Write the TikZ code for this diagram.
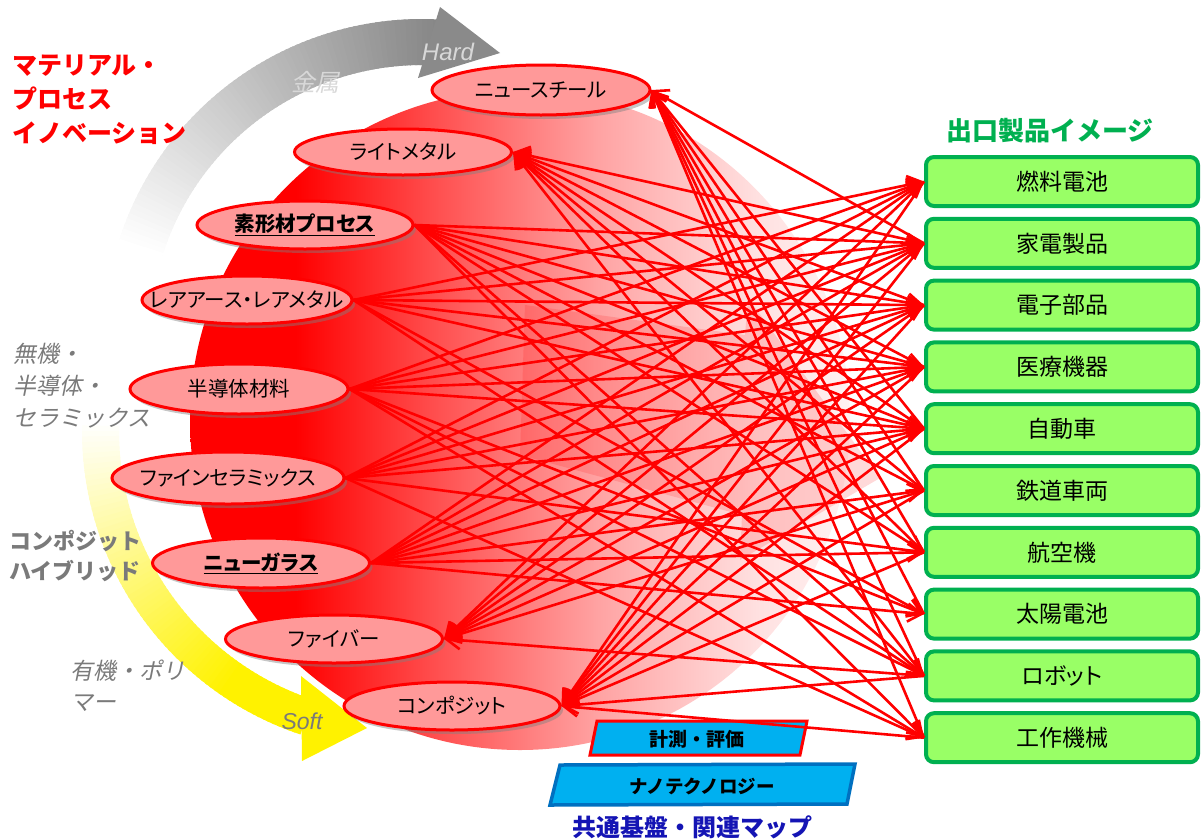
\documentclass[tikz,border=0pt]{standalone}
\usepackage{fontspec}
\setmainfont{Noto Sans CJK JP}
\newfontfamily\jpsl{Noto Sans CJK JP}[FakeSlant=0.2]
\newfontfamily\jpp{Noto Sans CJK JP}[RawFeature=+palt]
\newfontfamily\arialf{Liberation Sans}
\usetikzlibrary{arrows.meta,shadows,shapes.geometric}
\definecolor{boxgreen}{HTML}{00B050}
\definecolor{boxfill}{HTML}{99FF66}
\definecolor{ellfill}{HTML}{FF9999}
\definecolor{cyanfill}{HTML}{00B0F0}
\definecolor{navyedge}{HTML}{0070C0}
\definecolor{titleblue}{HTML}{1414B4}
\definecolor{txtgray}{HTML}{7A7A7A}
\definecolor{lighttxt}{HTML}{D8D8D8}
\pgfdeclarehorizontalshading{redfade}{100bp}{color(0bp)=(red); color(33bp)=(red); color(44bp)=(red!68!white); color(56bp)=(red!36!white); color(68bp)=(red!12!white); color(77bp)=(red!3!white); color(100bp)=(white)}
\begin{document}
\begin{tikzpicture}[x=1pt,y=-1pt,
  mat/.style={ellipse,draw=red,line width=3pt,fill=ellfill,inner sep=0pt,
    font=\fontsize{20.5}{22}\selectfont\jpp,
    drop shadow={shadow xshift=3pt,shadow yshift=-4pt,opacity=0.45}},
  prod/.style={rectangle,rounded corners=8pt,draw=boxgreen,line width=4pt,fill=boxfill,
    minimum width=272pt,minimum height=49pt,inner sep=0pt,font=\fontsize{23}{25}\selectfont\jpp},
  link/.style={draw=red,line width=2.6pt,-{Straight Barb[length=14pt,width=18pt]}},
  graylbl/.style={text=txtgray,anchor=west,align=left,inner sep=0pt,font=\fontsize{23}{32}\selectfont\jpsl},
]
\useasboundingbox (0,0) rectangle (1202,839);
% red disc
\shade[shading=redfade] (520,420) circle[radius=330];
% pale pink arrow
\fill[red,opacity=0.15] (525,305) -- (745,335) -- (748,298) -- (880,478) -- (740,560) -- (742,515) -- (520,455) -- cycle;
% gray "Hard" arc
\foreach \a in {87,...,165}{
  \pgfmathsetmacro\p{max(0,47*(1-(\a-87)/75))}
  \fill[black!\p!white,shift={(422,337)}] (-\a:272) -- (-\a-1.5:272) -- (-\a-1.5:318) -- (-\a:318) -- cycle;
}
\fill[black!46!white] (440,7) -- (500,53) -- (418,78) -- cycle;
% yellow "Soft" arc
\foreach \a in {178,...,250}{
  \pgfmathsetmacro\p{min(100,max(0,100*(\a-178)/57))}
  \fill[yellow!\p!white,shift={(402,431)}] (-\a:283) -- (-\a-1.5:283) -- (-\a-1.5:320) -- (-\a:320) -- cycle;
}
\fill[yellow] (301,676) -- (367,728) -- (302,761) -- cycle;
% left labels
\node[font=\fontsize{25}{34}\selectfont\bfseries,text=red,anchor=west,align=left,inner sep=0pt] (mpi) at (12,100) {マテリアル・\\プロセス\\イノベーション};
\node[text=lighttxt,font=\fontsize{24}{28}\selectfont\jpsl] (metal) at (315,82) {金属};
\node[text=lighttxt,font=\fontsize{24}{28}\selectfont\arialf\itshape] (hard) at (448,52) {Hard};
\node[graylbl] (inorg) at (13,386) {無機・\\半導体・\\セラミックス};
\node[graylbl,font=\fontsize{22}{30}\selectfont\bfseries] (hybrid) at (9,556) {コンポジット\\ハイブリッド};
\node[graylbl,font=\fontsize{23}{31}\selectfont\jpsl] (organic) at (70,686) {有機・ポリ\\マー};
\node[text=txtgray,font=\fontsize{23}{28}\selectfont\arialf\itshape] (soft) at (302,721) {Soft};
% bottom platforms
\filldraw[fill=cyanfill,draw=red,line width=3pt] (597,721) -- (807,721) -- (800,755) -- (590,755) -- cycle;
\node[font=\fontsize{19}{22}\selectfont\bfseries] (keisoku) at (697,739) {計測・評価};
\filldraw[fill=cyanfill,draw=navyedge,line width=3.5pt] (560,765) -- (855,764) -- (847,804) -- (550,805) -- cycle;
\node[font=\fontsize{18.5}{22}\selectfont\bfseries] (nano) at (702,786) {ナノテクノロジー};
\node[text=titleblue,font=\fontsize{24}{28}\selectfont\bfseries] (kyotsu) at (692,827) {共通基盤・関連マップ};
% material ellipses
\node[mat,minimum width=218pt,minimum height=50pt] (steel) at (541,90) {\makebox[0pt]{ニュースチール}};
\node[mat,minimum width=217pt,minimum height=46pt] (light) at (403,152) {\makebox[0pt]{ライトメタル}};
\node[mat,minimum width=216pt,minimum height=48pt] (sokei) at (305,225) {\makebox[0pt]{\bfseries\underline{素形材プロセス}}};
\node[mat,minimum width=210pt,minimum height=48pt] (rare) at (247,300) {\makebox[0pt]{レアアース・レアメタル}};
\node[mat,minimum width=218pt,minimum height=50pt] (semi) at (239,389) {\makebox[0pt]{半導体材料}};
\node[mat,minimum width=232pt,minimum height=52pt] (fine) at (228,478) {\makebox[0pt]{ファインセラミックス}};
\node[mat,minimum width=217pt,minimum height=50pt] (glass) at (261,563) {\makebox[0pt]{\bfseries\underline{ニューガラス}}};
\node[mat,minimum width=217pt,minimum height=48pt] (fiber) at (334,639) {\makebox[0pt]{ファイバー}};
\node[mat,minimum width=216pt,minimum height=48pt] (comp) at (452,706) {\makebox[0pt]{コンポジット}};
% product boxes
\node[text=boxgreen,font=\fontsize{26}{30}\selectfont\bfseries] (title) at (1050,131) {出口製品イメージ};
\node[prod] (b1) at (1062,181.5) {燃料電池};
\node[prod] (b2) at (1062,243.3) {家電製品};
\node[prod] (b3) at (1062,305.1) {電子部品};
\node[prod] (b4) at (1062,366.9) {医療機器};
\node[prod] (b5) at (1062,428.7) {自動車};
\node[prod] (b6) at (1062,490.5) {鉄道車両};
\node[prod] (b7) at (1062,552.3) {航空機};
\node[prod] (b8) at (1062,614.1) {太陽電池};
\node[prod] (b9) at (1062,675.9) {ロボット};
\node[prod] (b10) at (1062,737.7) {工作機械};
% connectors: material -> product
\foreach \s/\tl in {sokei/{2,3,4,5,6,7,9,10},rare/{1,2,3,4,5,8,9},semi/{1,2,3,4,5,8,9,10},fine/{1,2,3,4,5,7,10},glass/{1,2,3,4,5,6,7,8}}{
  \foreach \t in \tl {\draw[link] (\s.east) -- (b\t.west);}
}
% connectors: product -> material
\foreach \s/\tl in {steel/{2,5,6,7,8,9,10},light/{2,3,4,5,6,7,9},fiber/{1,2,3,4,5,6,9},comp/{1,2,3,4,5,6,7,9,10}}{
  \foreach \t in \tl {\draw[link] (b\t.west) -- (\s.east);}
}
\end{tikzpicture}
\end{document}
